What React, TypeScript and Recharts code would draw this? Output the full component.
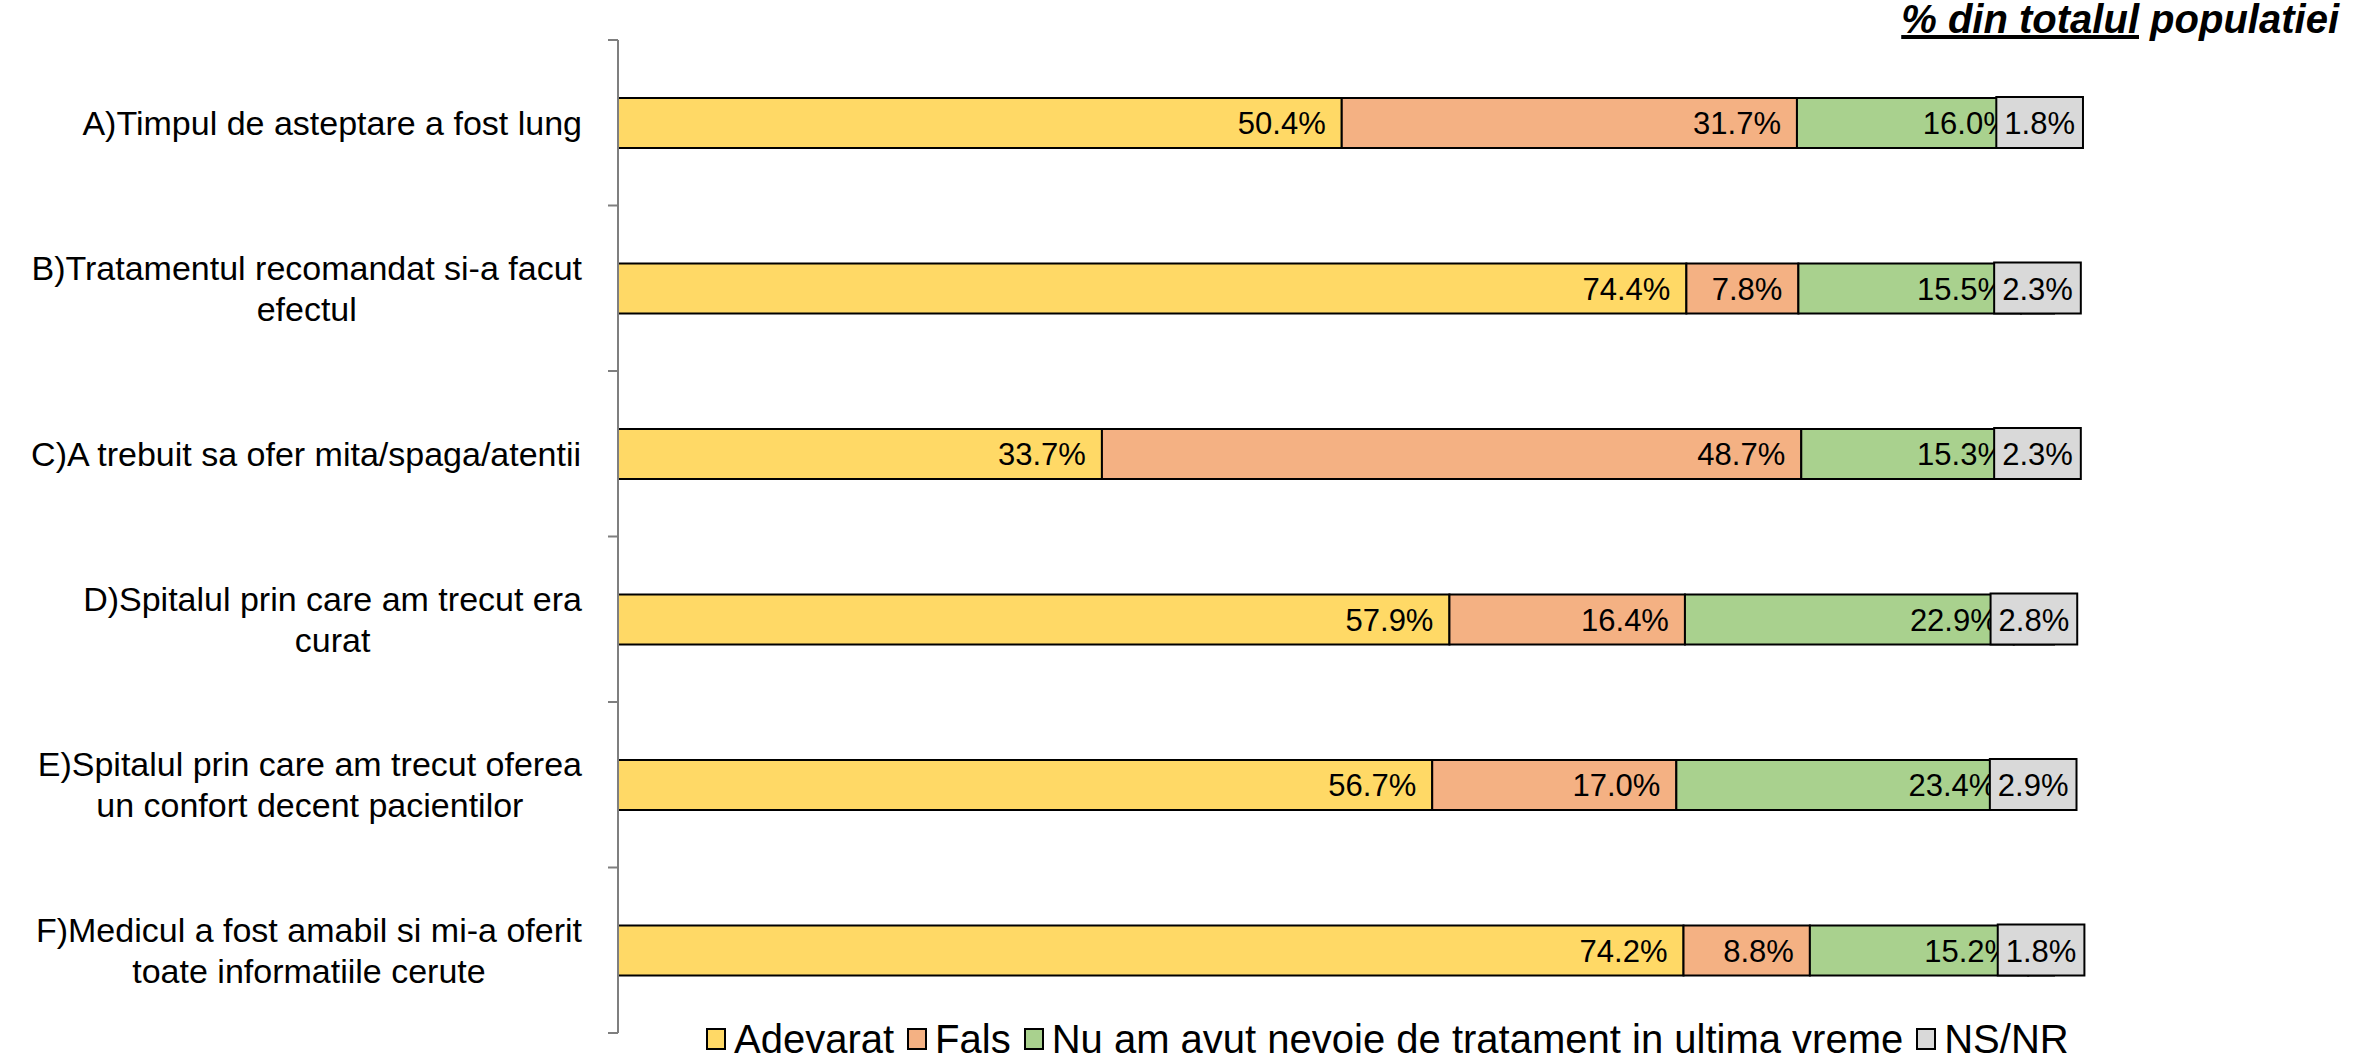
import React from 'react';
import { BarChart, Bar, XAxis, YAxis, Legend, LabelList } from 'recharts';

// ---------- data ----------
const categories = [
  'A)Timpul de asteptare a fost lung',
  'B)Tratamentul recomandat si-a facut\nefectul',
  'C)A trebuit sa ofer mita/spaga/atentii',
  'D)Spitalul prin care am trecut era\ncurat',
  'E)Spitalul prin care am trecut oferea\nun confort decent pacientilor',
  'F)Medicul a fost amabil si mi-a oferit\ntoate informatiile cerute',
];
const adevarat = [50.4, 74.4, 33.7, 57.9, 56.7, 74.2];
const fals = [31.7, 7.8, 48.7, 16.4, 17.0, 8.8];
const nuAm = [16.0, 15.5, 15.3, 22.9, 23.4, 15.2];
const nsnr = [1.8, 2.3, 2.3, 2.8, 2.9, 1.8];

const seriesNames = ['Adevarat', 'Fals', 'Nu am avut nevoie de tratament in ultima vreme', 'NS/NR'];
const seriesKeys = ['adevarat', 'fals', 'nuAm', 'nsnr'];
const seriesColors = ['#FFD966', '#F4B183', '#A9D18E', '#D9D9D9'];
const unitTitle = '% din totalul';
const unitTitleRest = ' populatiei';

const data = categories.map((name, i) => ({
  name,
  adevarat: adevarat[i],
  fals: fals[i],
  nuAm: nuAm[i],
  nsnr: nsnr[i],
}));

// ---------- layout ----------
const W = 2354;
const H = 1061;
const MARGIN = { top: 40, right: 300, bottom: 28, left: 0 };
const YAXIS_W = 618;
const BAND = (H - MARGIN.top - MARGIN.bottom) / categories.length;
const FONT = '"Liberation Sans", Arial, sans-serif';
const CAT_SIZE = 34;
const VAL_SIZE = 31;
const LEG_SIZE = 40;
const AXIS_COLOR = '#7F7F7F';

let ctx: CanvasRenderingContext2D | null = null;
function measure(text: string, size: number, weight = 'normal') {
  if (!ctx) ctx = document.createElement('canvas').getContext('2d');
  if (!ctx) return text.length * size * 0.5;
  ctx.font = `${weight} ${size}px "Liberation Sans", Arial, sans-serif`;
  return ctx.measureText(text).width;
}

const fmt = (v: number) => `${Number(v).toFixed(1)}%`;

const CategoryTick = (props: any) => {
  const { y, payload, index } = props;
  const lines = String(payload.value).split('\n');
  const axisX = MARGIN.left + YAXIS_W;
  const right = axisX - 36;
  const maxW = Math.max(...lines.map((l) => measure(l, CAT_SIZE)));
  const cx = right - maxW / 2;
  const lh = 41;
  const y0 = y - ((lines.length - 1) * lh) / 2;
  return (
    <g>
      <line x1={axisX - 10} x2={axisX} y1={y - BAND / 2} y2={y - BAND / 2} stroke={AXIS_COLOR} strokeWidth={2} />
      {index === categories.length - 1 && (
        <line x1={axisX - 10} x2={axisX} y1={y + BAND / 2} y2={y + BAND / 2} stroke={AXIS_COLOR} strokeWidth={2} />
      )}
      <text fontFamily={FONT} fontSize={CAT_SIZE} fill="#000">
        {lines.map((l, i) => (
          <tspan key={i} x={cx} y={y0 + i * lh} dy="0.35em" textAnchor="middle">
            {l}
          </tspan>
        ))}
      </text>
    </g>
  );
};

const InsideEndLabel = (props: any) => {
  const { x, y, width, height, value } = props;
  return (
    <text
      x={x + width - 16}
      y={y + height / 2}
      dy="0.36em"
      textAnchor="end"
      fontFamily={FONT}
      fontSize={VAL_SIZE}
      fill="#000"
    >
      {fmt(value)}
    </text>
  );
};

const BoxLabel = (props: any) => {
  const { x, y, width, height, value } = props;
  const t = fmt(value);
  const bw = measure(t, VAL_SIZE) + 16;
  const cx = x + width / 2;
  return (
    <g>
      <rect x={cx - bw / 2} y={y - 1} width={bw} height={height + 1} fill="#D9D9D9" stroke="#000" strokeWidth={2} />
      <text x={cx} y={y + height / 2} dy="0.36em" textAnchor="middle" fontFamily={FONT} fontSize={VAL_SIZE} fill="#000">
        {t}
      </text>
    </g>
  );
};

const LegendContent = () => (
  <div style={{ display: 'flex', alignItems: 'center', fontFamily: FONT, fontSize: LEG_SIZE, color: '#000', whiteSpace: 'nowrap', lineHeight: 1 }}>
    {seriesNames.map((n, i) => (
      <div key={n} style={{ display: 'flex', alignItems: 'center', marginRight: 13 }}>
        <div style={{ width: 16, height: 18, background: seriesColors[i], border: '2px solid #000', marginRight: 8 }} />
        <span>{n}</span>
      </div>
    ))}
  </div>
);

export default function App() {
  return (
    <div style={{ position: 'absolute', left: 0, top: 0, width: W, height: H, background: '#fff' }}>
      <BarChart width={W} height={H} data={data} layout="vertical" margin={MARGIN} barSize={50}>
        <XAxis type="number" domain={[0, 100]} hide />
        <YAxis
          type="category"
          dataKey="name"
          width={YAXIS_W}
          axisLine={{ stroke: AXIS_COLOR, strokeWidth: 2 }}
          tickLine={false}
          tick={<CategoryTick />}
          interval={0}
        />
        {seriesKeys.map((k, i) => (
          <Bar key={k} dataKey={k} name={seriesNames[i]} stackId="a" fill={seriesColors[i]} stroke="#000" strokeWidth={2} isAnimationActive={false}>
            <LabelList dataKey={k} content={i === 3 ? <BoxLabel /> : <InsideEndLabel />} />
          </Bar>
        ))}
        <Legend
          verticalAlign="middle"
          align="center"
          layout="horizontal"
          wrapperStyle={{ top: 1019, left: 706, width: 1600, height: 44 }}
          content={<LegendContent />}
        />
      </BarChart>
      <svg width={W} height={60} style={{ position: 'absolute', left: 0, top: 0, pointerEvents: 'none' }}>
        <text x={2339} y={33} textAnchor="end" fontFamily={FONT} fontSize={40} fontWeight="bold" fontStyle="italic" fill="#000">
          <tspan textDecoration="underline" style={{ textDecoration: 'underline' }}>{unitTitle}</tspan>
          <tspan>{unitTitleRest}</tspan>
        </text>
      </svg>
    </div>
  );
}
